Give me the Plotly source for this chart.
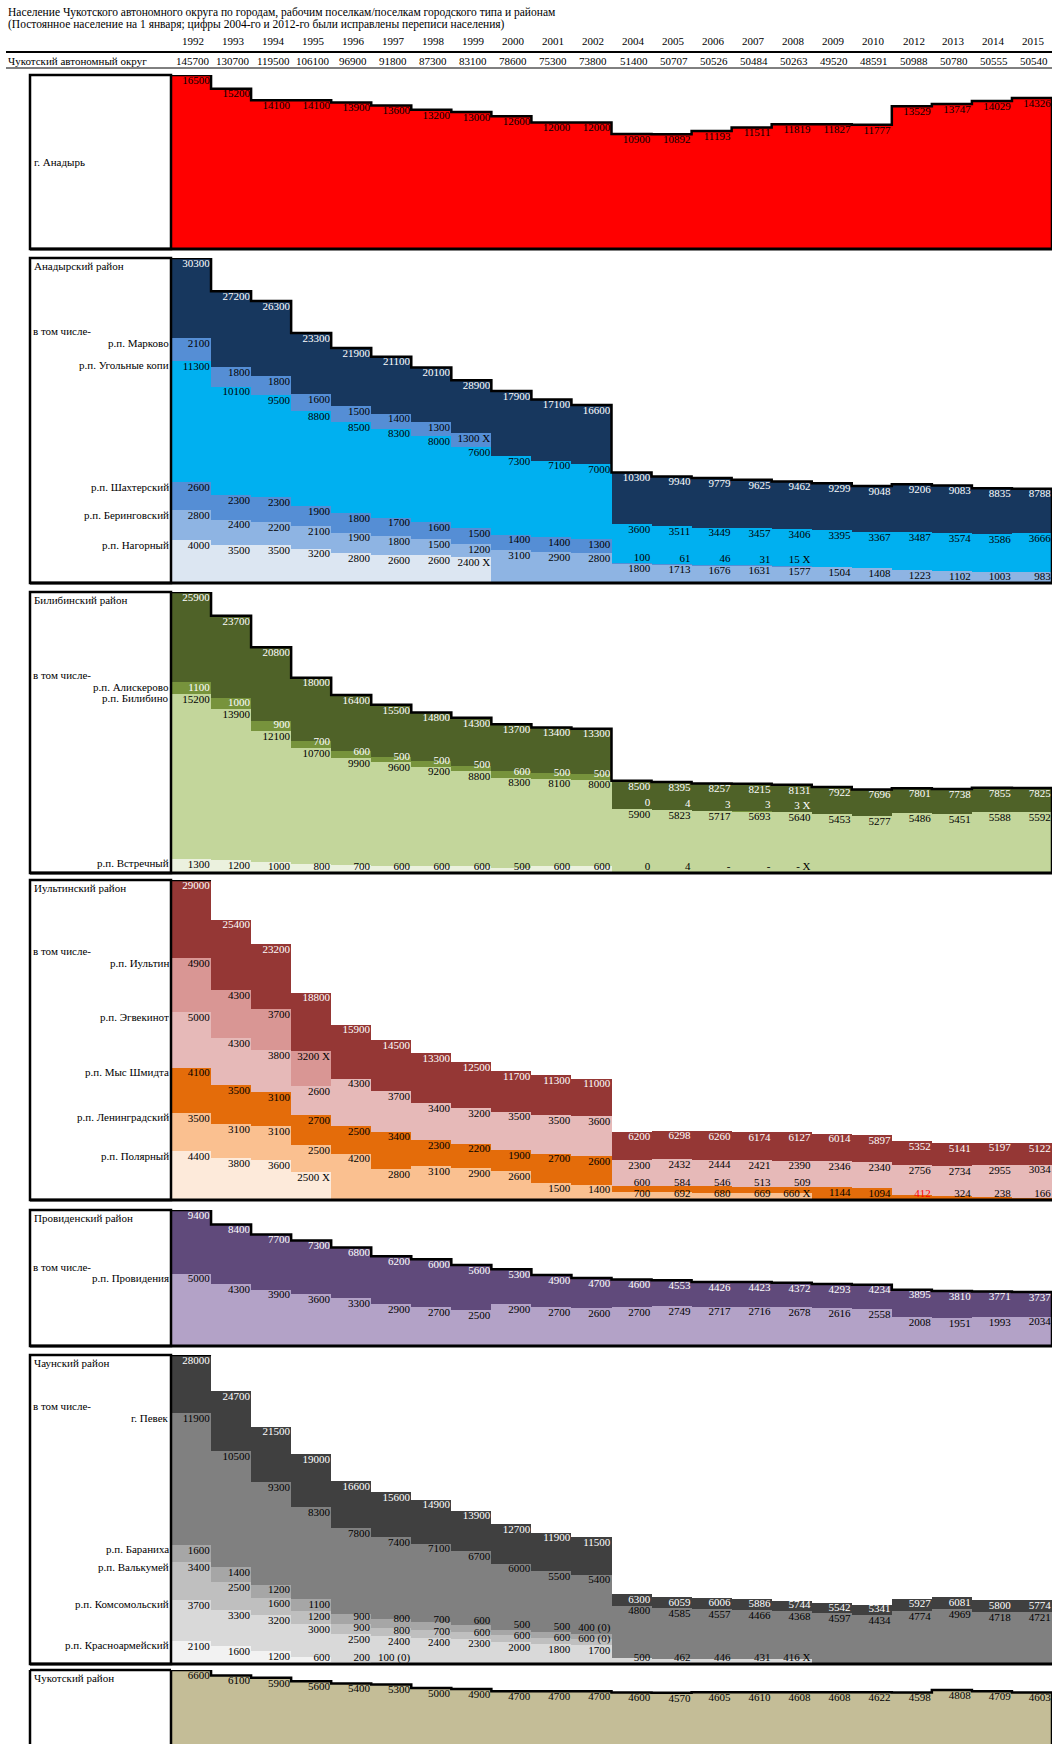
import plotly.graph_objects as go

W, H = 1062, 1744
FONT = "Liberation Serif"
FS = 11
LABEL_H = 11.5  # px height reserved for one label row

YEARS = ["1992", "1993", "1994", "1995", "1996", "1997", "1998", "1999", "2000", "2001", "2002",
         "2004", "2005", "2006", "2007", "2008", "2009", "2010", "2012", "2013", "2014", "2015"]
OKRUG = [145700, 130700, 119500, 106100, 96900, 91800, 87300, 83100, 78600, 75300, 73800,
         51400, 50707, 50526, 50484, 50263, 49520, 48591, 50988, 50780, 50555, 50540]

# --- г. Анадырь
ANADYR = [16500, 15200, 14100, 14100, 13900, 13600, 13200, 13000, 12600, 12000, 12000,
          10900, 10892, 11193, 11511, 11819, 11827, 11777, 13529, 13747, 14029, 14326]

# --- Анадырский район
ANADYRSKY = [30300, 27200, 26300, 23300, 21900, 21100, 20100, 18900, 17900, 17100, 16600,
             10300, 9940, 9779, 9625, 9462, 9299, 9048, 9206, 9083, 8835, 8788]
ANADYRSKY_TXT = {7: "28900"}
MARKOVO = [2100, 1800, 1800, 1600, 1500, 1400, 1300, 1300] + [None] * 14
MARKOVO_TXT = {7: "1300 X"}
UGOLNYE = [11300, 10100, 9500, 8800, 8500, 8300, 8000, 7600, 7300, 7100, 7000,
           3600, 3511, 3449, 3457, 3406, 3395, 3367, 3487, 3574, 3586, 3666]
SHAKHTERSKY = [2600, 2300, 2300, 1900, 1800, 1700, 1600, 1500, 1400, 1400, 1300,
               100, 61, 46, 31, 15] + [None] * 6
SHAKHTERSKY_TXT = {15: "15 X"}
BERINGOVSKY = [2800, 2400, 2200, 2100, 1900, 1800, 1500, 1200, 3100, 2900, 2800,
               1800, 1713, 1676, 1631, 1577, 1504, 1408, 1223, 1102, 1003, 983]
NAGORNY = [4000, 3500, 3500, 3200, 2800, 2600, 2600, 2400] + [None] * 14
NAGORNY_TXT = {7: "2400 X"}

# --- Билибинский район
BILIBINSKY = [25900, 23700, 20800, 18000, 16400, 15500, 14800, 14300, 13700, 13400, 13300,
              8500, 8395, 8257, 8215, 8131, 7922, 7696, 7801, 7738, 7855, 7825]
ALISKEROVO = [1100, 1000, 900, 700, 600, 500, 500, 500, 600, 500, 500,
              0, 4, 3, 3, 3] + [None] * 6
ALISKEROVO_TXT = {15: "3 X"}
BILIBINO = [15200, 13900, 12100, 10700, 9900, 9600, 9200, 8800, 8300, 8100, 8000,
            5900, 5823, 5717, 5693, 5640, 5453, 5277, 5486, 5451, 5588, 5592]
VSTRECHNY = [1300, 1200, 1000, 800, 700, 600, 600, 600, 500, 600, 600,
             0, 4, 0, 0, 0] + [None] * 6
VSTRECHNY_TXT = {13: "-", 14: "-", 15: "- X"}

# --- Иультинский район
IULTINSKY = [29000, 25400, 23200, 18800, 15900, 14500, 13300, 12500, 11700, 11300, 11000,
             6200, 6298, 6260, 6174, 6127, 6014, 5897, 5352, 5141, 5197, 5122]
IULTIN = [4900, 4300, 3700, 3200] + [None] * 18
IULTIN_TXT = {3: "3200 X"}
EGVEKINOT = [5000, 4300, 3800, 2600, 4300, 3700, 3400, 3200, 3500, 3500, 3600,
             2300, 2432, 2444, 2421, 2390, 2346, 2340, 2756, 2734, 2955, 3034]
MYS_SHMIDTA = [4100, 3500, 3100, 2700, 2500, 3400, 2300, 2200, 1900, 2700, 2600,
               600, 584, 546, 513, 509, 1144, 1094, 412, 324, 238, 166]
MYS_SHMIDTA_RED = {18}
LENINGRADSKY = [3500, 3100, 3100, 2500, 4200, 2800, 3100, 2900, 2600, 1500, 1400,
                700, 692, 680, 669, 660] + [None] * 6
LENINGRADSKY_TXT = {15: "660 X"}
POLYARNY = [4400, 3800, 3600, 2500] + [None] * 18
POLYARNY_TXT = {3: "2500 X"}

# --- Провиденский район
PROVIDENSKY = [9400, 8400, 7700, 7300, 6800, 6200, 6000, 5600, 5300, 4900, 4700,
               4600, 4553, 4426, 4423, 4372, 4293, 4234, 3895, 3810, 3771, 3737]
PROVIDENIYA = [5000, 4300, 3900, 3600, 3300, 2900, 2700, 2500, 2900, 2700, 2600,
               2700, 2749, 2717, 2716, 2678, 2616, 2558, 2008, 1951, 1993, 2034]

# --- Чаунский район
CHAUNSKY = [28000, 24700, 21500, 19000, 16600, 15600, 14900, 13900, 12700, 11900, 11500,
            6300, 6059, 6006, 5886, 5744, 5542, 5341, 5927, 6081, 5800, 5774]
PEVEK = [11900, 10500, 9300, 8300, 7800, 7400, 7100, 6700, 6000, 5500, 5400,
         4800, 4585, 4557, 4466, 4368, 4597, 4434, 4774, 4969, 4718, 4721]
BARANIKHA = [1600, 1400, 1200, 1100, 900, 800, 700, 600, 500, 500, 400] + [None] * 11
BARANIKHA_TXT = {10: "400 (0)"}
VALKUMEY = [3400, 2500, 1600, 1200, 900, 800, 700, 600, 600, 600, 600] + [None] * 11
VALKUMEY_TXT = {10: "600 (0)"}
KOMSOMOLSKY = [3700, 3300, 3200, 3000, 2500, 2400, 2400, 2300, 2000, 1800, 1700,
               500, 462, 446, 431, 416] + [None] * 6
KOMSOMOLSKY_TXT = {15: "416 X"}
KRASNOARMEYSKY = [2100, 1600, 1200, 600, 200, 100] + [None] * 16
KRASNOARMEYSKY_TXT = {5: "100 (0)"}

# --- Чукотский район
CHUKOTSKY = [6600, 6100, 5900, 5600, 5400, 5300, 5000, 4900, 4700, 4700, 4700,
             4600, 4570, 4605, 4610, 4608, 4608, 4622, 4598, 4808, 4709, 4603]

BLACK = "#000000"
WHITE = "#FFFFFF"


def S(label, values, color, tcolor=BLACK, txt=None, red=None):
    return dict(label=label, values=values, color=color, tcolor=tcolor,
                txt=txt or {}, red=red or set())


PANELS = [
    dict(top=75, bottom=249, name=None, center="г. Анадырь", total=ANADYR, total_txt={},
         color="#FF0000", tcolor=BLACK, series=[], step="full"),
    dict(top=258, bottom=583, name="Анадырский район", total=ANADYRSKY, total_txt=ANADYRSKY_TXT,
         color="#17375E", tcolor=WHITE, step="full",
         series=[S("р.п. Нагорный", NAGORNY, "#DCE6F2", txt=NAGORNY_TXT),
                 S("р.п. Беринговский", BERINGOVSKY, "#8EB4E3"),
                 S("р.п. Шахтерский", SHAKHTERSKY, "#558ED5", txt=SHAKHTERSKY_TXT),
                 S("р.п. Угольные копи", UGOLNYE, "#00B0F0"),
                 S("р.п. Марково", MARKOVO, "#558ED5", txt=MARKOVO_TXT)]),
    dict(top=592, bottom=873, name="Билибинский район", total=BILIBINSKY, total_txt={},
         color="#4F6228", tcolor=WHITE, step="full",
         series=[S("р.п. Встречный", VSTRECHNY, "#EBF1DE", txt=VSTRECHNY_TXT),
                 S("р.п. Билибино", BILIBINO, "#C3D69B"),
                 S("р.п. Алискерово", ALISKEROVO, "#77933C", WHITE, txt=ALISKEROVO_TXT)]),
    dict(top=880, bottom=1200, name="Иультинский район", total=IULTINSKY, total_txt={},
         color="#953735", tcolor=WHITE, step="first",
         series=[S("р.п. Полярный", POLYARNY, "#FDEADA", txt=POLYARNY_TXT),
                 S("р.п. Ленинградский", LENINGRADSKY, "#FAC090", txt=LENINGRADSKY_TXT),
                 S("р.п. Мыс Шмидта", MYS_SHMIDTA, "#E46C0A", red=MYS_SHMIDTA_RED),
                 S("р.п. Эгвекинот", EGVEKINOT, "#E6B9B8"),
                 S("р.п. Иультин", IULTIN, "#D99694", txt=IULTIN_TXT)]),
    dict(top=1210, bottom=1346, name="Провиденский район", total=PROVIDENSKY, total_txt={},
         color="#604A7B", tcolor=WHITE, step="full",
         series=[S("р.п. Провидения", PROVIDENIYA, "#B3A2C7")]),
    dict(top=1355, bottom=1664, name="Чаунский район", total=CHAUNSKY, total_txt={},
         color="#404040", tcolor=WHITE, step="first",
         series=[S("р.п. Красноармейский", KRASNOARMEYSKY, "#F2F2F2", txt=KRASNOARMEYSKY_TXT),
                 S("р.п. Комсомольский", KOMSOMOLSKY, "#D9D9D9", txt=KOMSOMOLSKY_TXT),
                 S("р.п. Валькумей", VALKUMEY, "#BFBFBF", txt=VALKUMEY_TXT),
                 S("р.п. Бараниха", BARANIKHA, "#A6A6A6", txt=BARANIKHA_TXT),
                 S("г. Певек", PEVEK, "#808080")]),
    dict(top=1670, bottom=1744, name="Чукотский район", total=CHUKOTSKY, total_txt={},
         color="#C4BD97", tcolor=BLACK, series=[], step="full", nobottom=True, open_bottom=True),
]

X_LEFT, X_BOX, X_RIGHT = 30, 171, 1052
N = len(YEARS)
IDX = list(range(N))

fig = go.Figure()
layout = dict(width=W, height=H, margin=dict(l=0, r=0, t=0, b=0),
              paper_bgcolor="white", plot_bgcolor="rgba(0,0,0,0)",
              barmode="stack", bargap=0, showlegend=False,
              font=dict(family=FONT, size=FS, color=BLACK))
annotations = []
shapes = []

for k, P in enumerate(PANELS, start=1):
    xa = "x" if k == 1 else f"x{k}"
    ya = "y" if k == 1 else f"y{k}"
    ymax = P["total"][0]
    layout[f"xaxis{k}" if k > 1 else "xaxis"] = dict(
        domain=[X_BOX / W, X_RIGHT / W], range=[-0.5, N - 0.5], visible=False,
        anchor=ya, fixedrange=True)
    layout[f"yaxis{k}" if k > 1 else "yaxis"] = dict(
        domain=[1 - P["bottom"] / H, 1 - P["top"] / H], range=[0, ymax], visible=False,
        anchor=xa, fixedrange=True)

    # stacked bars: settlements bottom -> top, then remainder of district
    sums = [0] * N
    for s in P["series"]:
        fig.add_trace(go.Bar(x=IDX, y=s["values"], width=1, marker_color=s["color"],
                             marker_line_width=0, xaxis=xa, yaxis=ya, hoverinfo="skip"))
        sums = [a + (v or 0) for a, v in zip(sums, s["values"])]
    rest = [t - a for t, a in zip(P["total"], sums)]
    fig.add_trace(go.Bar(x=IDX, y=rest, width=1, marker_color=P["color"],
                         marker_line_width=0, xaxis=xa, yaxis=ya, hoverinfo="skip"))

    # value labels: each at the top of its segment, pushed up to avoid overlap
    px_per_unit = (P["bottom"] - P["top"]) / ymax
    hd = LABEL_H / px_per_unit
    lx, ly, lt, lc = [], [], [], []
    first_col_base = {}
    for i in IDX:
        cum = 0
        floor = 0
        segs = [(s, s["values"][i]) for s in P["series"]] + [(None, rest[i])]
        for s, v in segs:
            if v is None:
                continue
            cum += v
            top = P["total"][i] if s is None else cum
            base = max(top - hd, floor)
            floor = base + hd
            if s is None:
                text = P["total_txt"].get(i, str(P["total"][i]))
                col = P["tcolor"]
            else:
                text = s["txt"].get(i, str(v))
                col = "#FF0000" if i in s["red"] else s["tcolor"]
                if i == 0:
                    first_col_base[s["label"]] = base
            lx.append(i + 0.47)
            ly.append(base)
            lt.append(text)
            lc.append(col)
    fig.add_trace(go.Scatter(x=lx, y=ly, text=lt, mode="text", textposition="top left",
                             textfont=dict(family=FONT, size=FS, color=lc),
                             xaxis=xa, yaxis=ya, cliponaxis=False, hoverinfo="skip"))

    # black outline along the top of the district
    if P["step"] == "full":
        sx = [i - 0.5 for i in IDX] + [N - 0.5, N - 0.5]
        sy = list(P["total"]) + [P["total"][-1], 0]
    else:
        sx = [-0.5, 0.5]
        sy = [ymax, ymax]
    fig.add_trace(go.Scatter(x=sx, y=sy, mode="lines", line=dict(color=BLACK, width=2.5, shape="hv"),
                             xaxis=xa, yaxis=ya, cliponaxis=False, hoverinfo="skip"))

    # label box and bottom border
    if P.get("open_bottom"):
        for x0, x1, y0, y1 in [(X_LEFT, X_BOX, 1, 1), (X_LEFT, X_LEFT, 0, 1), (X_BOX, X_BOX, 0, 1)]:
            shapes.append(dict(type="line", xref="paper", yref=f"{ya} domain",
                               x0=x0 / W, x1=x1 / W, y0=y0, y1=y1,
                               line=dict(color=BLACK, width=2.5)))
    else:
        shapes.append(dict(type="rect", xref="paper", yref=f"{ya} domain",
                           x0=X_LEFT / W, x1=X_BOX / W, y0=0, y1=1,
                           line=dict(color=BLACK, width=2.5), fillcolor="rgba(0,0,0,0)"))
    if not P.get("nobottom"):
        shapes.append(dict(type="line", xref="paper", yref=f"{ya} domain",
                           x0=X_LEFT / W, x1=X_RIGHT / W, y0=0, y1=0,
                           line=dict(color=BLACK, width=3)))

    # left-hand texts
    if P["name"]:
        annotations.append(dict(xref="paper", yref=ya, x=(X_LEFT + 2) / W, y=ymax,
                                xanchor="left", yanchor="top", text=P["name"],
                                showarrow=False, font=dict(size=FS)))
    if P.get("center"):
        annotations.append(dict(xref="paper", yref=ya, x=(X_LEFT + 2) / W, y=ymax / 2,
                                xanchor="left", yanchor="middle", text=P["center"],
                                showarrow=False, font=dict(size=FS)))
    top_label_y = None
    for s in P["series"]:
        b = first_col_base.get(s["label"])
        if b is None:
            continue
        annotations.append(dict(xref="paper", yref=ya, x=(X_BOX - 1) / W, y=b,
                                xanchor="right", yanchor="bottom", text=s["label"],
                                showarrow=False, font=dict(size=FS), borderpad=0))
        top_label_y = b if top_label_y is None else max(top_label_y, b)
    if top_label_y is not None:
        annotations.append(dict(xref="paper", yref=ya, x=(X_LEFT + 2) / W, y=top_label_y + hd,
                                xanchor="left", yanchor="bottom", text="в том числе-",
                                showarrow=False, font=dict(size=FS), borderpad=0))

# header
TFS = 11.5
annotations.append(dict(xref="paper", yref="paper", x=6 / W, y=1 - 12 / H, xanchor="left",
                        yanchor="middle", showarrow=False, font=dict(size=TFS),
                        text="Население Чукотского автономного округа по городам, рабочим поселкам/поселкам городского типа и районам"))
annotations.append(dict(xref="paper", yref="paper", x=6 / W, y=1 - 24 / H, xanchor="left",
                        yanchor="middle", showarrow=False, font=dict(size=TFS),
                        text="(Постоянное население на 1 января; цифры 2004-го и 2012-го были исправлены переписи населения)"))
annotations.append(dict(xref="paper", yref="paper", x=6 / W, y=1 - 61 / H, xanchor="left",
                        yanchor="middle", showarrow=False, font=dict(size=FS),
                        text="Чукотский автономный округ"))
for i, (yr, tot) in enumerate(zip(YEARS, OKRUG)):
    annotations.append(dict(xref="x", yref="paper", x=i + 0.05, y=1 - 41 / H, xanchor="center",
                            yanchor="middle", showarrow=False, text=yr, font=dict(size=FS)))
    annotations.append(dict(xref="x", yref="paper", x=i + 0.05, y=1 - 61 / H, xanchor="center",
                            yanchor="middle", showarrow=False, text=str(tot), font=dict(size=FS)))
shapes.append(dict(type="line", xref="paper", yref="paper", x0=6 / W, x1=X_RIGHT / W,
                   y0=1 - 52 / H, y1=1 - 52 / H, line=dict(color=BLACK, width=2)))
shapes.append(dict(type="line", xref="paper", yref="paper", x0=6 / W, x1=X_RIGHT / W,
                   y0=1 - 68 / H, y1=1 - 68 / H, line=dict(color=BLACK, width=1)))

layout["annotations"] = annotations
layout["shapes"] = shapes
fig.update_layout(**layout)
fig.write_html("out.html", config={"displayModeBar": False},
               post_script="document.body.style.margin='0';document.body.style.overflow='hidden';")
